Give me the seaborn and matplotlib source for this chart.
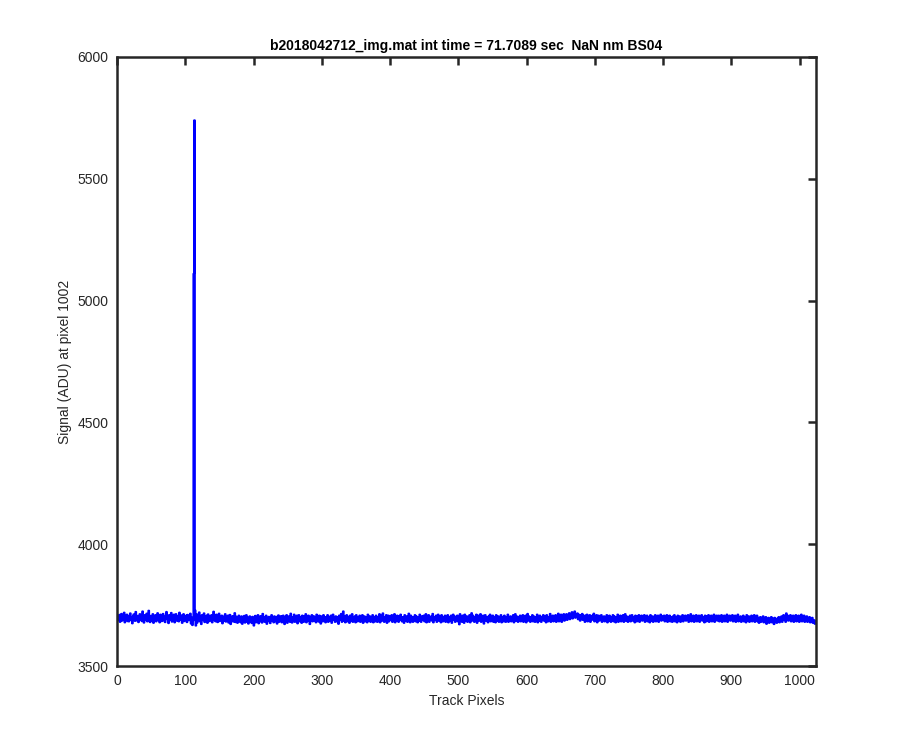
import numpy as np
import pandas as pd
import matplotlib
matplotlib.use("Agg")
import matplotlib.pyplot as plt
import seaborn as sns

title = "b2018042712_img.mat int time = 71.7089 sec  NaN nm BS04"
xlabel = "Track Pixels"
ylabel = "Signal (ADU) at pixel 1002"
xticks = [0, 100, 200, 300, 400, 500, 600, 700, 800, 900, 1000]
yticks = [3500, 4000, 4500, 5000, 5500, 6000]

signal = [
3702,3688,3710,3681,3697,3714,3686,3700,3691,3719,3679,3705,3692,3711,3684,3698,
3683,3707,3716,3690,3701,3675,3704,3712,3693,3685,3722,3697,3687,3706,3680,3702,
3713,3689,3703,3684,3724,3696,3678,3709,3698,3688,3715,3683,3702,3727,3691,3680,
3706,3697,3686,3713,3677,3702,3694,3709,3683,3699,3717,3688,3704,3679,3711,3695,
3684,3703,3714,3687,3699,3680,3707,3722,3692,3703,3676,3709,3697,3689,3718,3682,
3704,3691,3711,3679,3699,3713,3686,3705,3694,3683,3719,3696,3689,3708,3677,3703,
3713,3684,3700,3694,3707,3680,3710,3697,3688,3704,3715,3674,3699,3668,3687,5110,
5740,3728,3666,3713,3678,3707,3692,3720,3683,3700,3672,3709,3695,3688,3716,3680,
3703,3691,3707,3677,3712,3697,3684,3705,3691,3709,3679,3697,3723,3688,3703,3683,
3711,3694,3680,3704,3715,3684,3700,3689,3707,3675,3703,3694,3686,3713,3682,3700,
3691,3707,3678,3698,3710,3672,3701,3688,3705,3682,3695,3717,3680,3703,3687,3677,
3698,3707,3683,3692,3679,3704,3673,3695,3686,3706,3678,3692,3709,3682,3699,3674,
3688,3704,3681,3695,3676,3702,3688,3666,3692,3706,3679,3698,3686,3709,3675,3695,
3683,3705,3692,3678,3714,3687,3701,3681,3696,3707,3673,3692,3684,3702,3689,3676,
3698,3709,3686,3695,3679,3704,3692,3683,3702,3674,3695,3708,3681,3699,3689,3705,
3679,3693,3707,3684,3672,3702,3689,3709,3677,3696,3687,3705,3681,3715,3692,3678,
3701,3688,3711,3681,3698,3686,3707,3675,3692,3709,3683,3701,3689,3677,3707,3695,
3681,3705,3692,3713,3679,3699,3686,3707,3692,3672,3702,3689,3709,3683,3696,3704,
3686,3701,3679,3711,3692,3698,3682,3707,3689,3674,3704,3695,3683,3709,3692,3701,
3679,3698,3689,3709,3681,3702,3692,3686,3707,3677,3695,3711,3689,3699,3681,3704,
3692,3683,3701,3673,3707,3689,3698,3714,3681,3695,3724,3686,3704,3679,3698,3709,
3683,3702,3692,3677,3707,3695,3686,3713,3681,3698,3689,3704,3679,3709,3692,3683,
3701,3689,3707,3681,3698,3686,3709,3677,3695,3704,3683,3701,3692,3679,3711,3695,
3686,3704,3681,3698,3689,3709,3679,3701,3692,3683,3707,3695,3681,3701,3689,3713,
3679,3698,3707,3686,3716,3692,3681,3701,3689,3709,3677,3698,3707,3683,3695,3704,
3689,3709,3681,3701,3692,3713,3679,3698,3686,3707,3695,3681,3704,3689,3711,3692,
3683,3701,3692,3677,3709,3695,3686,3704,3681,3698,3715,3689,3679,3707,3692,3701,
3681,3698,3689,3709,3683,3704,3692,3679,3701,3686,3711,3695,3681,3704,3689,3698,
3707,3683,3695,3713,3679,3701,3689,3709,3681,3698,3692,3704,3686,3714,3679,3695,
3701,3689,3707,3681,3698,3711,3686,3704,3692,3679,3709,3695,3683,3701,3689,3707,
3681,3698,3689,3709,3679,3701,3692,3686,3707,3677,3695,3711,3689,3704,3681,3698,
3692,3707,3683,3701,3671,3713,3689,3698,3681,3707,3692,3677,3711,3695,3686,3704,
3681,3701,3689,3709,3679,3698,3717,3686,3707,3692,3681,3701,3689,3711,3677,3698,
3707,3686,3695,3713,3681,3701,3689,3707,3674,3695,3709,3686,3701,3692,3679,3704,
3692,3711,3683,3698,3689,3707,3681,3701,3692,3679,3709,3695,3686,3704,3681,3698,
3689,3709,3679,3701,3692,3683,3707,3695,3681,3701,3689,3711,3681,3698,3692,3704,
3683,3701,3689,3709,3679,3698,3713,3686,3704,3692,3681,3701,3689,3707,3683,3698,
3692,3709,3681,3701,3689,3707,3679,3698,3714,3686,3704,3692,3681,3701,3689,3709,
3683,3704,3692,3681,3701,3689,3711,3679,3698,3686,3707,3692,3681,3701,3695,3709,
3686,3704,3689,3679,3709,3695,3683,3701,3692,3714,3681,3698,3689,3707,3683,3701,
3692,3709,3681,3701,3689,3715,3683,3704,3692,3711,3681,3701,3695,3713,3686,3704,
3698,3713,3689,3707,3701,3717,3692,3709,3704,3721,3695,3711,3707,3724,3698,3713,
3707,3716,3692,3711,3704,3686,3709,3698,3714,3689,3707,3701,3681,3707,3695,3711,
3683,3704,3692,3709,3681,3701,3689,3707,3695,3715,3683,3701,3689,3709,3679,3698,
3707,3686,3701,3692,3709,3681,3698,3689,3704,3683,3701,3692,3709,3679,3698,3686,
3707,3692,3681,3701,3689,3709,3683,3704,3692,3679,3701,3689,3711,3681,3698,3692,
3707,3683,3701,3689,3709,3681,3698,3713,3686,3704,3692,3681,3701,3689,3707,3683,
3698,3709,3686,3701,3692,3679,3707,3695,3683,3704,3689,3709,3681,3698,3692,3707,
3686,3701,3689,3709,3681,3698,3692,3707,3683,3701,3689,3679,3709,3695,3686,3704,
3681,3701,3692,3709,3683,3698,3689,3707,3681,3701,3692,3711,3686,3704,3689,3698,
3707,3683,3701,3692,3709,3681,3698,3689,3707,3683,3701,3692,3681,3704,3689,3709,
3683,3701,3692,3679,3707,3695,3686,3704,3681,3698,3689,3709,3683,3701,3692,3707,
3686,3701,3689,3709,3681,3698,3692,3713,3683,3701,3689,3707,3681,3698,3692,3709,
3683,3701,3689,3707,3681,3698,3692,3709,3686,3701,3689,3679,3707,3695,3683,3704,
3692,3709,3681,3701,3689,3707,3683,3698,3692,3711,3681,3701,3689,3707,3686,3698,
3707,3683,3701,3692,3709,3681,3698,3689,3707,3683,3701,3692,3711,3681,3698,3689,
3707,3686,3701,3692,3709,3683,3698,3689,3707,3681,3701,3692,3711,3683,3698,3689,
3704,3681,3698,3689,3707,3683,3701,3692,3679,3709,3695,3686,3704,3681,3701,3689,
3707,3683,3698,3692,3709,3681,3701,3689,3707,3683,3698,3677,3692,3701,3681,3695,
3686,3704,3679,3692,3683,3701,3673,3689,3681,3698,3677,3692,3683,3701,3679,3695,
3686,3672,3698,3681,3689,3677,3695,3683,3701,3679,3692,3686,3704,3681,3695,3709,
3689,3701,3681,3716,3695,3707,3686,3701,3692,3709,3683,3698,3689,3707,3681,3701,
3692,3709,3683,3701,3689,3707,3681,3698,3692,3711,3683,3701,3689,3707,3681,3698,
3689,3704,3681,3695,3686,3701,3679,3692,3683,3698,3677,3689,3681,3673,3686,3677,
]
pixels = list(range(1, len(signal) + 1))

df = pd.DataFrame({"pixel": pixels, "signal": signal})

sns.set_style("white")
plt.rcParams["font.family"] = ["Liberation Sans", "DejaVu Sans"]

fig = plt.figure(figsize=(9, 7.5), dpi=100)
ax = fig.add_axes([0.13, 0.112, 0.7767, 0.812])

sns.lineplot(data=df, x="pixel", y="signal", ax=ax, color="#0000ff",
             linewidth=1.5, drawstyle="steps-post", estimator=None, sort=False)

ax.set_xlim(0, 1024)
ax.set_ylim(3500, 6000)
ax.set_xticks(xticks)
ax.set_yticks(yticks)
ax.tick_params(direction="in", length=6, width=1.8, colors="#262626",
               labelsize=10, top=True, right=True, pad=6)
for s in ax.spines.values():
    s.set_visible(True)
    s.set_color("#262626")
    s.set_linewidth(1.8)

ax.set_xlabel(xlabel, fontsize=10, color="#262626")
ax.set_ylabel(ylabel, fontsize=10, color="#262626")
ax.set_title(title, fontsize=10, fontweight="bold", color="black", pad=5)

fig.savefig("out.png", dpi=100, facecolor="white")
